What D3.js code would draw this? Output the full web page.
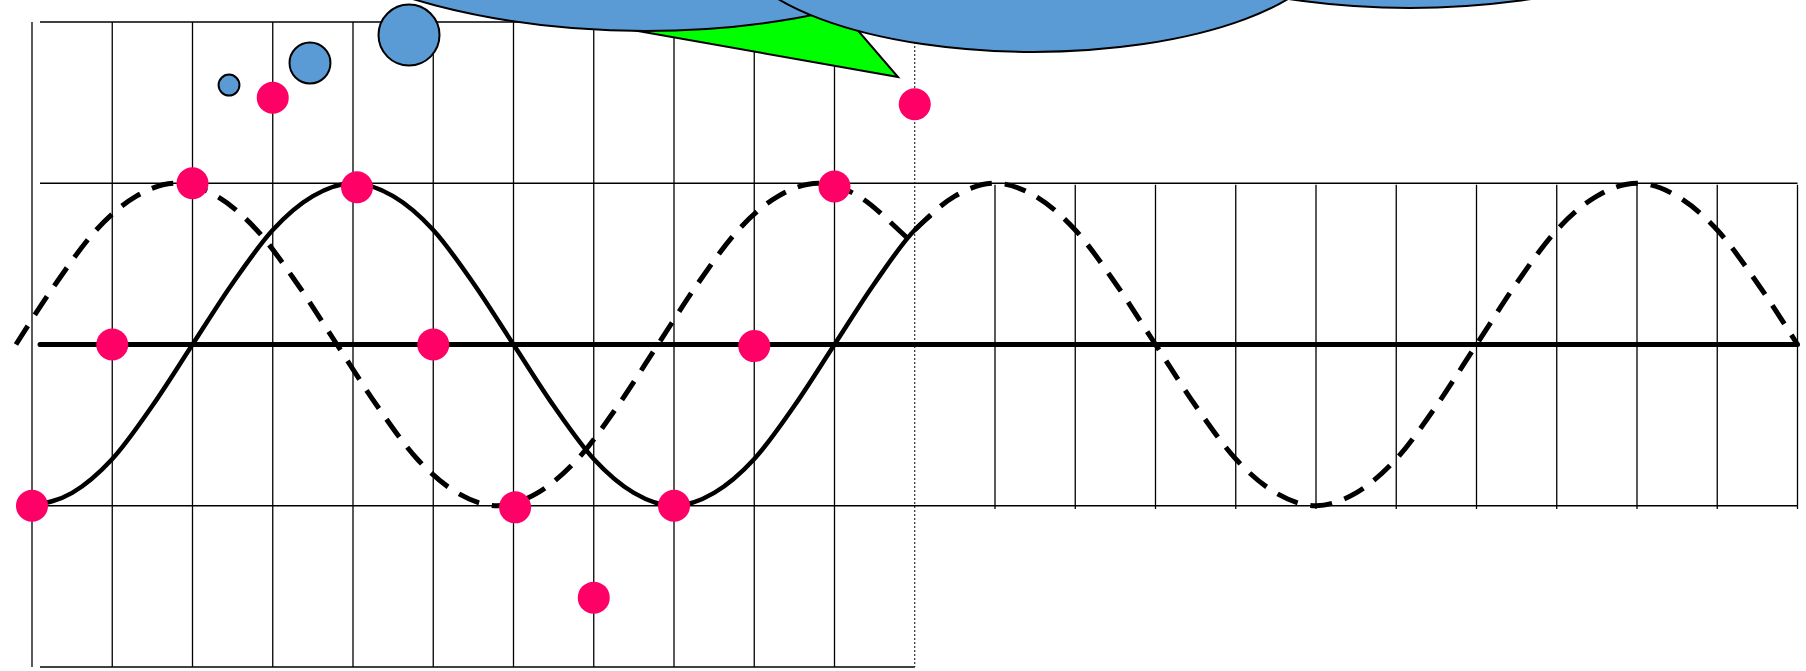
<!DOCTYPE html>
<html lang="en">
    <head>
        <script type="text/javascript" src="https://cdn.jsdelivr.net/npm/d3@7"></script>
        <title>Waves</title>
        <style type="text/css">
            body { margin: 0; background: #fff; }
        </style>
    </head>
    <body>
        <script type="text/javascript">
            var w = 1806;
            var h = 671;

            // grid columns (x in column units, y in wave units)
            var leftCols = [0,1,2,3,4,5,6,7,8,9,10];
            var dottedCol = [11];
            var rightCols = [12,13,14,15,16,17,18,19,20,21,22];

            // solid wave
            var solidX = [0,0.5,1,1.5,2,2.5,3,3.5,4,4.5,5,5.5,6,6.5,7,7.5,8,8.5,9,9.5,10,10.5,11,11.2];
            var solidY = [-1,-0.92,-0.71,-0.38,0,0.38,0.71,0.92,1,0.92,0.71,0.38,0,-0.38,-0.71,-0.92,-1,-0.92,-0.71,-0.38,0,0.38,0.71,0.8];

            // dashed wave, left part
            var dashAX = [-0.2,0.3,0.8,1.3,1.8,2.3,2.8,3.3,3.8,4.3,4.8,5.3,5.8,6.3,6.8,7.3,7.8,8.3,8.8,9.3,9.8,10.3,10.8,10.95];
            var dashAY = [0,0.38,0.71,0.92,1,0.92,0.71,0.38,0,-0.38,-0.71,-0.92,-1,-0.92,-0.71,-0.38,0,0.38,0.71,0.92,1,0.92,0.71,0.64];

            // dashed wave, right part
            var dashBX = [11,11.5,12,12.5,13,13.5,14,14.5,15,15.5,16,16.5,17,17.5,18,18.5,19,19.5,20,20.5,21,21.5,22];
            var dashBY = [0.71,0.92,1,0.92,0.71,0.38,0,-0.38,-0.71,-0.92,-1,-0.92,-0.71,-0.38,0,0.38,0.71,0.92,1,0.92,0.71,0.38,0];

            // pink dots
            var dotX = [0,1,2,3,4.05,5,6.02,7,8,9,10,11];
            var dotY = [-1,0,1,1.53,0.975,0,-1.01,-1.57,-1,-0.01,0.98,1.49];

            // thought bubbles (centre + radius in column units)
            var bubbleX = [2.455,3.464,4.698];
            var bubbleY = [1.609,1.746,1.919];
            var bubbleR = [0.13,0.255,0.38];

            // cloud ellipses (drawn back to front)
            var cloudX = [17.17,7.639,12.474];
            var cloudY = [2.695,3.067,2.509];
            var cloudRX = [3.614,5.097,3.738];
            var cloudRY = [0.608,1.1225,0.6946];

            // green pointer
            var triX = [6.579,10.791,10.019];
            var triY = [2.029,1.659,2.105];

            var xScale = d3.scaleLinear().domain([0,22]).range([32,1797.5]);
            var yScale = d3.scaleLinear().domain([-2,2]).range([667,22]);

            var svg = d3.select("body")
                        .append("svg")
                        .attr("width", w)
                        .attr("height", h);

            svg.append("rect").attr("width", w).attr("height", h).attr("fill", "#fff");

            // vertical grid lines
            svg.selectAll("line.vl")
                .data(leftCols)
                .enter()
                .append("line")
                .attr("class", "vl")
                .attr("x1", function(d){ return xScale(d); })
                .attr("x2", function(d){ return xScale(d); })
                .attr("y1", yScale(2))
                .attr("y2", yScale(-2))
                .attr("stroke", "#000")
                .attr("stroke-width", 1.3);

            svg.selectAll("line.vd")
                .data(dottedCol)
                .enter()
                .append("line")
                .attr("class", "vd")
                .attr("x1", function(d){ return xScale(d); })
                .attr("x2", function(d){ return xScale(d); })
                .attr("y1", yScale(2))
                .attr("y2", yScale(-2))
                .attr("stroke", "#000")
                .attr("stroke-width", 1)
                .attr("stroke-dasharray", "2,2");

            svg.selectAll("line.vr")
                .data(rightCols)
                .enter()
                .append("line")
                .attr("class", "vr")
                .attr("x1", function(d){ return xScale(d); })
                .attr("x2", function(d){ return xScale(d); })
                .attr("y1", yScale(0.99))
                .attr("y2", yScale(-1.02))
                .attr("stroke", "#000")
                .attr("stroke-width", 1.3);

            // horizontal lines: [value, end column]
            var hLines = [[2,11],[1,22],[-1,22],[-2,11]];
            svg.selectAll("line.hl")
                .data(hLines)
                .enter()
                .append("line")
                .attr("class", "hl")
                .attr("x1", xScale(0.1))
                .attr("x2", function(d){ return xScale(d[1]); })
                .attr("y1", function(d){ return yScale(d[0]); })
                .attr("y2", function(d){ return yScale(d[0]); })
                .attr("stroke", "#000")
                .attr("stroke-width", 1.5);

            // thick zero axis
            svg.append("line")
                .attr("x1", xScale(0.1))
                .attr("x2", xScale(22))
                .attr("y1", yScale(0))
                .attr("y2", yScale(0))
                .attr("stroke", "#000")
                .attr("stroke-width", 5)
                .attr("stroke-linecap", "round");

            var line = d3.line()
                .x(function(d){ return xScale(d[0]); })
                .y(function(d){ return yScale(d[1]); })
                .curve(d3.curveMonotoneX);

            var solid = d3.zip(solidX, solidY);
            var dashA = d3.zip(dashAX, dashAY);
            var dashB = d3.zip(dashBX, dashBY);

            svg.append("path")
                .attr("d", line(dashA))
                .attr("fill", "none")
                .attr("stroke", "#000")
                .attr("stroke-width", 5)
                .attr("stroke-dasharray", "22,13");

            svg.append("path")
                .attr("d", line(dashB))
                .attr("fill", "none")
                .attr("stroke", "#000")
                .attr("stroke-width", 5)
                .attr("stroke-dasharray", "22,13");

            svg.append("path")
                .attr("d", line(solid))
                .attr("fill", "none")
                .attr("stroke", "#000")
                .attr("stroke-width", 4.5);

            // pink dots
            svg.selectAll("circle.dot")
                .data(d3.zip(dotX, dotY))
                .enter()
                .append("circle")
                .attr("class", "dot")
                .attr("cx", function(d){ return xScale(d[0]); })
                .attr("cy", function(d){ return yScale(d[1]); })
                .attr("r", 16)
                .attr("fill", "#ff0066");

            var unit = xScale(1) - xScale(0);

            // thought bubbles
            svg.selectAll("circle.bub")
                .data(d3.zip(bubbleX, bubbleY, bubbleR))
                .enter()
                .append("circle")
                .attr("class", "bub")
                .attr("cx", function(d){ return xScale(d[0]); })
                .attr("cy", function(d){ return yScale(d[1]); })
                .attr("r", function(d){ return d[2] * unit; })
                .attr("fill", "#5b9bd5")
                .attr("stroke", "#000")
                .attr("stroke-width", 2);

            // green pointer
            svg.append("polygon")
                .attr("points", d3.zip(triX, triY).map(function(d){
                    return xScale(d[0]) + "," + yScale(d[1]);
                }).join(" "))
                .attr("fill", "#00ff00")
                .attr("stroke", "#000")
                .attr("stroke-width", 2)
                .attr("stroke-linejoin", "miter");

            var uy = yScale(0) - yScale(1);

            // cloud
            svg.selectAll("ellipse.cloud")
                .data(d3.zip(cloudX, cloudY, cloudRX, cloudRY))
                .enter()
                .append("ellipse")
                .attr("class", "cloud")
                .attr("cx", function(d){ return xScale(d[0]); })
                .attr("cy", function(d){ return yScale(d[1]); })
                .attr("rx", function(d){ return d[2] * unit; })
                .attr("ry", function(d){ return d[3] * uy; })
                .attr("fill", "#5b9bd5")
                .attr("stroke", "#000")
                .attr("stroke-width", 2);
        </script>
    </body>
</html>
